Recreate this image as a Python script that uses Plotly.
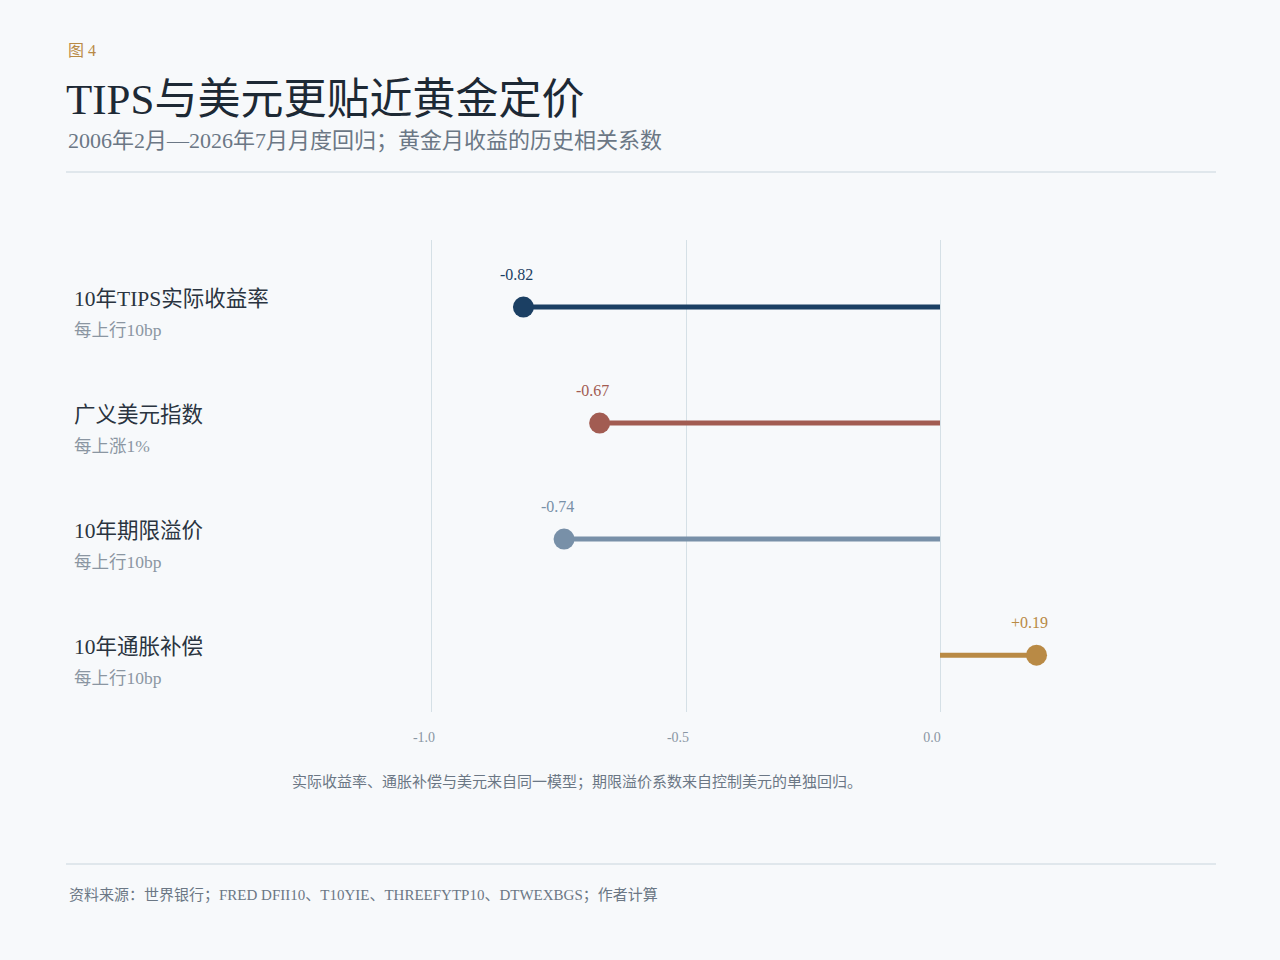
import plotly.graph_objects as go

# ---- data ----
categories = ["10年TIPS实际收益率", "广义美元指数", "10年期限溢价", "10年通胀补偿"]
sublabels = ["每上行10bp", "每上涨1%", "每上行10bp", "每上行10bp"]
values = [-0.82, -0.67, -0.74, 0.19]
value_text = ["-0.82", "-0.67", "-0.74", "+0.19"]
colors = ["#1b3f63", "#a25c52", "#7890a8", "#b98a45"]
tick_vals = [-1.0, -0.5, 0.0]
tick_text = ["-1.0", "-0.5", "0.0"]

W, H = 1280, 960
BG = "#f7f9fb"
SERIF = "Liberation Serif, 'DejaVu Serif', 'Noto Sans CJK SC', serif"

def px(x):
    return x / W

def py(y):
    return 1 - y / H

fig = go.Figure()
ys = list(range(len(categories)))
for i, (v, c) in enumerate(zip(values, colors)):
    fig.add_trace(go.Scatter(x=[0, v], y=[i, i], mode="lines",
                             line=dict(color=c, width=5), hoverinfo="skip",
                             showlegend=False))
fig.add_trace(go.Scatter(x=values, y=ys, mode="markers",
                         marker=dict(color=colors, size=21, line=dict(width=0)),
                         showlegend=False))

annotations = []
for i, (v, t, c) in enumerate(zip(values, value_text, colors)):
    annotations.append(dict(x=v, y=i, xref="x", yref="y", text=t, showarrow=False,
                            yshift=33, xshift=-7,
                            font=dict(family=SERIF, size=16, color=c)))

# row labels
row_y = [307, 423, 539, 655]
for cat, sub, yy in zip(categories, sublabels, row_y):
    annotations.append(dict(x=px(72), y=py(yy - 8), xref="paper", yref="paper",
                            xanchor="left", yanchor="middle", text=cat, showarrow=False,
                            font=dict(family=SERIF, size=21.5, color="#2a3440")))
    annotations.append(dict(x=px(72), y=py(yy + 23), xref="paper", yref="paper",
                            xanchor="left", yanchor="middle", text=sub, showarrow=False,
                            font=dict(family=SERIF, size=17.5, color="#8b96a2")))

# header / footer texts
annotations += [
    dict(x=px(66), y=py(51), xref="paper", yref="paper", xanchor="left", yanchor="middle",
         text="图 4", showarrow=False, font=dict(family=SERIF, size=16, color="#b98a45")),
    dict(x=px(64), y=py(99), xref="paper", yref="paper", xanchor="left", yanchor="middle",
         text="TIPS与美元更贴近黄金定价", showarrow=False,
         font=dict(family=SERIF, size=43, color="#1d2935")),
    dict(x=px(66), y=py(141), xref="paper", yref="paper", xanchor="left", yanchor="middle",
         text="2006年2月—2026年7月月度回归；黄金月收益的历史相关系数", showarrow=False,
         font=dict(family=SERIF, size=22, color="#6b7785")),
    dict(x=px(577), y=py(782), xref="paper", yref="paper", xanchor="center", yanchor="middle",
         text="实际收益率、通胀补偿与美元来自同一模型；期限溢价系数来自控制美元的单独回归。",
         showarrow=False, font=dict(family=SERIF, size=15, color="#6b7785")),
    dict(x=px(67), y=py(895), xref="paper", yref="paper", xanchor="left", yanchor="middle",
         text="资料来源：世界银行；FRED DFII10、T10YIE、THREEFYTP10、DTWEXBGS；作者计算",
         showarrow=False, font=dict(family=SERIF, size=15, color="#6b7785")),
]

shapes = [
    dict(type="line", xref="paper", yref="paper", x0=px(66), x1=px(1216),
         y0=py(172), y1=py(172), line=dict(color="#d9e1e7", width=1.5)),
    dict(type="line", xref="paper", yref="paper", x0=px(66), x1=px(1216),
         y0=py(864), y1=py(864), line=dict(color="#d9e1e7", width=1.5)),
]

fig.update_layout(
    width=W, height=H, autosize=False,
    margin=dict(l=0, r=0, t=0, b=0, pad=0),
    paper_bgcolor=BG, plot_bgcolor=BG,
    annotations=annotations, shapes=shapes,
    showlegend=False,
    xaxis=dict(domain=[px(426), px(1194)], range=[-1.0118, 0.5],
               tickvals=tick_vals, ticktext=tick_text,
               showgrid=True, gridcolor="#d5e0e6", gridwidth=1,
               zeroline=False, showline=False, ticks="", automargin=False,
               ticklabelstandoff=15, ticklabelshift=-8,
               tickfont=dict(family=SERIF, size=14, color="#8a96a3"),
               fixedrange=True),
    yaxis=dict(domain=[py(712), py(240)], range=[3.49, -0.578],
               showticklabels=False, showgrid=False, zeroline=False, automargin=False,
               showline=False, ticks="", fixedrange=True),
)

fig.write_html(
    "out.html",
    config={"displayModeBar": False, "responsive": False},
    post_script="document.body.style.margin='0';document.body.style.background='%s';" % BG,
)
